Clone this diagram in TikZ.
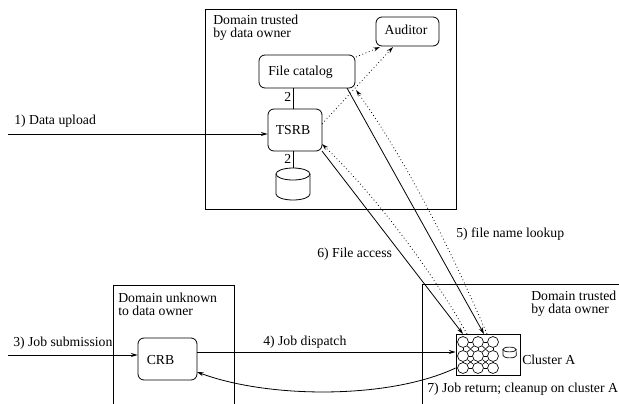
\documentclass[tikz,border=0pt]{standalone}
\usepackage{fontspec}
\setmainfont{Liberation Serif}
\usetikzlibrary{arrows.meta}
\tikzset{
  x=0.75pt,y=-0.75pt,
  txt/.style={inner sep=0pt,font=\fontsize{10.3}{9.7}\selectfont,align=left,anchor=west},
  rbox/.style={draw,rounded corners=4.5pt,line width=0.6pt,inner sep=0pt},
  wire/.style={line width=0.6pt,-{Stealth[length=5pt,width=3pt]}},
  plain/.style={line width=0.6pt},
  dot/.style={line width=0.6pt,dash pattern=on 0.6pt off 2pt,-{Stealth[length=5pt,width=3pt,open,sep=0pt]}},
  dom/.style={line width=0.6pt},
  nd/.style={draw,circle,minimum size=8.2pt,inner sep=0pt,line width=0.5pt},
}
\newcommand{\rb}[5]{\node[rbox,minimum width=#4*0.75pt,minimum height=#5*0.75pt] (#1) at (#2,#3) {};}
\begin{document}
\begin{tikzpicture}
\useasboundingbox (0,0) rectangle (619,404);
% domains
\node[draw,line width=0.6pt,minimum width=188.25pt,minimum height=150pt,inner sep=0pt] (dom1) at (330.5,109) {};
\coordinate (u1) at (113,404); \coordinate (u2) at (113,285); \coordinate (u3) at (234,285); \coordinate (u4) at (234,404);
\draw[dom] (u1) -- (u2) -- (u3) -- (u4);
\coordinate (r1) at (422,404); \coordinate (r2) at (422,284); \coordinate (r3) at (619,284);
\draw[dom] (r1) -- (r2) -- (r3);
% boxes
\rb{aud}{407.5}{31.5}{63}{29}
\rb{cat}{307}{71.5}{96}{33}
\rb{tsrb}{295}{130}{54}{42}
\rb{crb}{167.5}{359}{59}{42}
\node[draw,line width=0.6pt,minimum width=48pt,minimum height=31pt,inner sep=0pt] (clus) at (488,355) {};
% cylinder
\node[minimum width=25.5pt,minimum height=24pt,inner sep=0pt] (db) at (293,184) {};
\draw[line width=0.6pt] (293,174) ellipse [x radius=12.75pt,y radius=4.5pt];
\draw[line width=0.6pt] (276,174) -- (276,194) arc [start angle=180,end angle=360,x radius=12.75pt,y radius=4.5pt] -- (310,174);
% small disk
\draw[line width=0.5pt] (509.5,349.5) ellipse [x radius=5pt,y radius=1.8pt];
\draw[line width=0.5pt] (503,349.5) -- (503,355.5) arc [start angle=180,end angle=360,x radius=5pt,y radius=1.8pt] -- (516,349.5);
% cluster nodes
\foreach \n/\x/\y in {a/463/342,b/478/342,c/493/342,d/463/356,e/478/356,f/493/356,g/463/368,h/478/368,i/493/368}
  \node[nd] (\n) at (\x,\y) {};
\foreach \p/\q in {a/b,b/c,d/e,e/f,g/h,h/i,a/d,d/g,b/e,e/h,c/f,f/i,a/e,b/d,b/f,c/e,d/h,e/g,e/i,f/h}
  \draw[line width=0.45pt] (\p) -- (\q);
% box labels
\node[txt,anchor=center] (l1) at (406,29.5) {Auditor};
\node[txt,anchor=center] (l2) at (300.5,72) {File catalog};
\node[txt,anchor=center] (l3) at (293,130) {TSRB};
\node[txt,anchor=center] (l4) at (160.5,360) {CRB};
% texts
\node[txt] (t1) at (213,28) {Domain trusted\\by data owner};
\node[txt] (t2) at (118,304) {Domain unknown\\to data owner};
\node[txt] (t3) at (531,303.5) {Domain trusted\\by data owner};
\node[txt] (t4) at (14,121) {1) Data upload};
\node[txt] (t5) at (13,343) {3) Job submission};
\node[txt] (t6) at (263,342) {4) Job dispatch};
\node[txt] (t7) at (456,234.5) {5) file name lookup};
\node[txt] (t8) at (317,254.5) {6) File access};
\node[txt] (t9) at (427,389.5) {7) Job return; cleanup on cluster A};
\node[txt] (t10) at (522,360) {Cluster A};
\node[txt] (t11) at (284,97) {2};
\node[txt] (t12) at (284,159) {2};
% connectors
\coordinate (in1) at (8,134); \coordinate (in3) at (8,355); \coordinate (wx) at (293,0);
\draw[wire] (in1) -- (tsrb.west |- in1);
\draw[wire] (in3) -- (crb.west |- in3);
\draw[plain] (wx |- cat.south) -- (wx |- tsrb.north);
\draw[plain] (wx |- tsrb.south) -- (wx |- db.north);
\coordinate (w4) at (0,352);
\draw[wire] (crb.east |- w4) -- (clus.west |- w4);
\coordinate (s7) at (464,368); \coordinate (e7) at (197,372);
\draw[wire] (clus.west |- s7) .. controls (390,399) and (270,399) .. (e7);
\coordinate (a6) at (322,151); \coordinate (b6) at (463,334);
\draw[wire] (a6) -- (b6);
\coordinate (a5) at (347,88); \coordinate (b5) at (484,334);
\draw[wire] (a5) -- (b5);
\coordinate (c6) at (322,144); \coordinate (d6) at (467,334);
\draw[dot] (d6) .. controls (440,285) and (385,205) .. (c6);
\coordinate (c5) at (356,90); \coordinate (d5) at (487,334);
\draw[dot] (d5) .. controls (468,290) and (420,180) .. (c5);
\coordinate (f1) at (356,57); \coordinate (f2) at (380,47);
\draw[dot] (f1) -- (f2);
\coordinate (g1) at (322,124); \coordinate (g2) at (393,47);
\draw[dot] (g1) -- (g2);
\end{tikzpicture}
\end{document}
